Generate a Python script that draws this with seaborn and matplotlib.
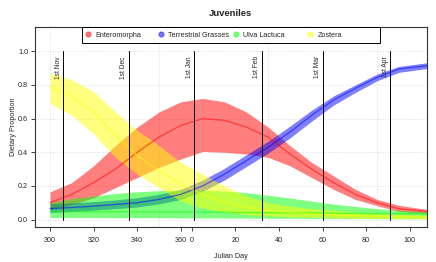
import matplotlib
matplotlib.use("Agg")
import matplotlib.pyplot as plt
from matplotlib.lines import Line2D
from matplotlib.legend import Legend
from matplotlib.patches import Rectangle
import seaborn as sns
import pandas as pd

days = [300, 310, 320, 330, 340, 350, 360, 370, 380, 390, 400, 410, 420, 430, 440, 450, 460, 473]

entero_mean = [0.10, 0.15, 0.22, 0.30, 0.40, 0.49, 0.56, 0.60, 0.59, 0.55, 0.49, 0.39, 0.30, 0.22, 0.15, 0.10, 0.065, 0.048]
entero_upper = [0.165, 0.22, 0.32, 0.44, 0.55, 0.64, 0.70, 0.72, 0.70, 0.64, 0.55, 0.44, 0.34, 0.26, 0.18, 0.12, 0.085, 0.06]
entero_lower = [0.06, 0.09, 0.13, 0.19, 0.25, 0.31, 0.36, 0.405, 0.40, 0.39, 0.37, 0.32, 0.25, 0.18, 0.12, 0.083, 0.048, 0.036]

grass_mean = [0.065, 0.072, 0.08, 0.09, 0.10, 0.12, 0.15, 0.20, 0.27, 0.35, 0.43, 0.52, 0.62, 0.71, 0.78, 0.845, 0.895, 0.915]
grass_upper = [0.095, 0.10, 0.107, 0.117, 0.13, 0.15, 0.18, 0.235, 0.305, 0.385, 0.465, 0.555, 0.65, 0.735, 0.80, 0.865, 0.91, 0.932]
grass_lower = [0.042, 0.048, 0.056, 0.065, 0.075, 0.093, 0.12, 0.168, 0.235, 0.315, 0.395, 0.485, 0.585, 0.68, 0.755, 0.825, 0.875, 0.898]

ulva_mean = [0.048, 0.048, 0.047, 0.047, 0.046, 0.046, 0.045, 0.044, 0.043, 0.042, 0.041, 0.04, 0.039, 0.038, 0.037, 0.036, 0.035, 0.034]
ulva_upper = [0.10, 0.125, 0.14, 0.155, 0.165, 0.172, 0.175, 0.175, 0.17, 0.16, 0.145, 0.128, 0.11, 0.092, 0.078, 0.065, 0.055, 0.045]
ulva_lower = [0.012, 0.012, 0.012, 0.011, 0.011, 0.011, 0.01, 0.01, 0.009, 0.009, 0.008, 0.008, 0.007, 0.007, 0.006, 0.006, 0.005, 0.005]

zostera_mean = [0.79, 0.73, 0.64, 0.50, 0.38, 0.29, 0.21, 0.15, 0.105, 0.075, 0.055, 0.042, 0.033, 0.027, 0.022, 0.018, 0.015, 0.013]
zostera_upper = [0.87, 0.83, 0.76, 0.64, 0.53, 0.44, 0.34, 0.27, 0.20, 0.14, 0.10, 0.08, 0.065, 0.055, 0.045, 0.038, 0.032, 0.027]
zostera_lower = [0.69, 0.62, 0.51, 0.37, 0.27, 0.19, 0.11, 0.07, 0.045, 0.03, 0.022, 0.017, 0.013, 0.01, 0.008, 0.007, 0.006, 0.005]

species = ["Enteromorpha", "Terrestrial Grasses", "Ulva Lactuca", "Zostera"]
colors = ["#FF0000", "#0000FF", "#00FF00", "#FFFF00"]

month_days = [306, 336, 366, 397, 425, 456]
month_labels = ["1st Nov", "1st Dec", "1st Jan", "1st Feb", "1st Mar", "1st Apr"]

tick_pos = [300, 320, 340, 360, 365, 385, 405, 425, 445, 465]
tick_labels = ["300", "320", "340", "360", "0", "20", "40", "60", "80", "100"]

sns.set_style("white")
plt.rcParams['font.family'] = ['Liberation Sans', 'DejaVu Sans']

series = {
    "Enteromorpha": (entero_mean, entero_lower, entero_upper),
    "Terrestrial Grasses": (grass_mean, grass_lower, grass_upper),
    "Ulva Lactuca": (ulva_mean, ulva_lower, ulva_upper),
    "Zostera": (zostera_mean, zostera_lower, zostera_upper),
}

fig = plt.figure(figsize=(4.36, 2.62), dpi=100)
ax = fig.add_axes([0.0803, 0.1336, 0.899, 0.763])

# dotted grid like R's grid()
for gy in [0, 0.2, 0.4, 0.6, 0.8, 1.0]:
    ax.axhline(gy, color="#d3d3d3", lw=0.6, ls=(0, (1, 2)), zorder=0)
for gx in [300, 350, 400, 450]:
    ax.axvline(gx, color="#d3d3d3", lw=0.6, ls=(0, (1, 2)), zorder=0)

for name, col in zip(species, colors):
    m, lo, hi = series[name]
    df = pd.DataFrame({"day": days, "value": m})
    ax.fill_between(days, lo, hi, color=col, alpha=0.5, lw=0, zorder=2)
    sns.lineplot(data=df, x="day", y="value", ax=ax, color=col, alpha=0.5, lw=1.0, zorder=3)

for d, lab in zip(month_days, month_labels):
    ax.plot([d, d], [0, 1], color="black", lw=0.7, zorder=4)
    ax.text(d - 0.5, 0.97, lab, rotation=90, ha="right", va="top", fontsize=4.8, zorder=5)

ax.set_xlim(293.1, 472.9)
ax.set_ylim(-0.044, 1.144)
ax.set_xticks(tick_pos)
ax.set_xticklabels(tick_labels)
ax.set_yticks([0, 0.2, 0.4, 0.6, 0.8, 1.0])
ax.set_yticklabels(["0.0", "0.2", "0.4", "0.6", "0.8", "1.0"])
ax.tick_params(axis="both", labelsize=5.2, length=3, width=0.6, direction="out",
               bottom=True, left=True)
ax.tick_params(axis="x", pad=4)
ax.tick_params(axis="y", pad=2)
for s in ax.spines.values():
    s.set_color("#333333")
    s.set_linewidth(0.8)

ax.set_xlabel("Julian Day", fontsize=5.2, labelpad=7)
ax.set_ylabel("Dietary Proportion", fontsize=5.2, labelpad=1)
ax.set_title("Juveniles", fontsize=6.8, fontweight="bold", pad=8)

# R-style horizontal legend: equal-width columns inside one box
ax.add_patch(Rectangle((0.12, 0.918), 0.76, 0.082, transform=ax.transAxes,
                       facecolor="white", edgecolor="black", lw=0.7, zorder=6, clip_on=False))
legend_x = [0.126, 0.312, 0.504, 0.693]
for name, col, lx in zip(species, colors, legend_x):
    h = Line2D([], [], marker="o", ls="none", color=col, alpha=0.5, markersize=3.4)
    leg = Legend(ax, [h], [name], loc="center left", bbox_to_anchor=(lx, 0.959),
                 frameon=False, fontsize=5.2, borderpad=0, borderaxespad=0,
                 handlelength=1.0, handletextpad=0.5)
    leg.set_zorder(7)
    ax.add_artist(leg)

fig.savefig("out.png", dpi=100)
